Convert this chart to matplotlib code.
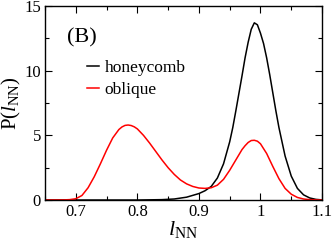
import matplotlib
matplotlib.use("Agg")
import matplotlib.pyplot as plt
from matplotlib.ticker import MultipleLocator

plt.rcParams['font.family'] = 'Liberation Serif'
plt.rcParams['mathtext.fontset'] = 'custom'
plt.rcParams['mathtext.rm'] = 'Liberation Serif'
plt.rcParams['mathtext.it'] = 'Liberation Serif:italic'

# values
x_honey = [0.65, 0.80, 0.84, 0.86, 0.88, 0.90, 0.91, 0.92, 0.93, 0.94, 0.95,
           0.955, 0.96, 0.965, 0.97, 0.975, 0.98, 0.985, 0.99, 0.995, 1.00,
           1.005, 1.01, 1.015, 1.02, 1.025, 1.03, 1.04, 1.05, 1.06, 1.07,
           1.08, 1.09, 1.10]
p_honey = [0.0, 0.0, 0.03, 0.08, 0.22, 0.5, 0.72, 1.05, 1.7, 2.8, 4.5,
           5.6, 6.9, 8.25, 9.6, 11.0, 12.2, 13.2, 13.7, 13.55, 12.9,
           12.1, 11.0, 9.7, 8.3, 6.9, 5.6, 3.4, 1.85, 0.9, 0.4,
           0.16, 0.05, 0.01]

x_obl = [0.65, 0.68, 0.69, 0.70, 0.71, 0.72, 0.73, 0.74, 0.75, 0.76, 0.77,
         0.775, 0.78, 0.785, 0.79, 0.795, 0.80, 0.81, 0.82, 0.83, 0.84, 0.85,
         0.86, 0.87, 0.88, 0.89, 0.90, 0.91, 0.92, 0.93, 0.94, 0.95, 0.96,
         0.97, 0.975, 0.98, 0.985, 0.99, 0.995, 1.00, 1.01, 1.02, 1.03, 1.04,
         1.05, 1.06, 1.07, 1.08, 1.10]
p_obl = [0.0, 0.01, 0.03, 0.1, 0.35, 0.95, 1.8, 2.8, 3.85, 4.8, 5.45,
         5.65, 5.77, 5.8, 5.76, 5.66, 5.5, 5.0, 4.4, 3.75, 3.1, 2.5,
         1.98, 1.55, 1.25, 1.05, 0.93, 0.9, 0.95, 1.15, 1.6, 2.3, 3.1,
         3.9, 4.2, 4.45, 4.6, 4.62, 4.55, 4.35, 3.6, 2.6, 1.65, 0.9,
         0.45, 0.2, 0.08, 0.03, 0.0]

fig = plt.figure(figsize=(3.32, 2.41), dpi=100)
ax = fig.add_axes([0.1355, 0.170, 0.8345, 0.805])

ax.plot(x_honey, p_honey, color='black', lw=1.1, label='honeycomb')
ax.plot(x_obl, p_obl, color='red', lw=1.1, label='oblique')

ax.set_xlim(0.65, 1.1)
ax.set_ylim(0, 15)
ax.xaxis.set_minor_locator(MultipleLocator(0.05))
ax.yaxis.set_major_locator(MultipleLocator(5))
ax.yaxis.set_minor_locator(MultipleLocator(2.5))
ax.set_xticks([0.7, 0.8, 0.9, 1.0, 1.1])
ax.set_xticklabels(['0.7', '0.8', '0.9', '1', '1.1'])
ax.tick_params(which='both', direction='in', top=True, right=True, labelsize=12)
ax.tick_params(which='major', length=5, width=0.8, pad=3)
ax.tick_params(which='minor', length=3, width=0.8)
for s in ax.spines.values():
    s.set_linewidth(1.0)

ax.set_xlabel(r'$l_{\rm NN}$', fontsize=16, labelpad=-1)
ax.set_ylabel(r'P($l_{\rm NN}$)', fontsize=15, labelpad=1)

ax.text(0.08, 0.835, '(B)', transform=ax.transAxes, fontsize=16, va='center')
ax.legend(loc='upper left', bbox_to_anchor=(0.15, 0.72), frameon=False,
          fontsize=12.5, handlelength=0.7, handletextpad=0.35, labelspacing=0.3,
          borderaxespad=0, borderpad=0)

fig.savefig('out.png', dpi=100)
